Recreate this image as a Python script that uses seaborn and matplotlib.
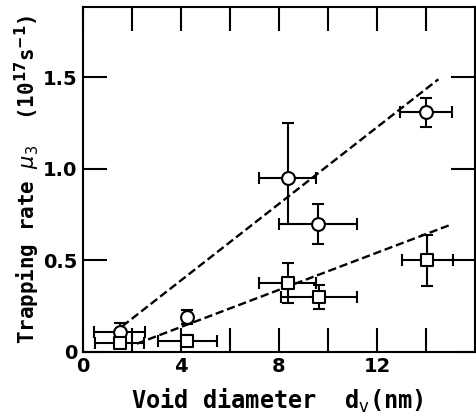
import matplotlib
matplotlib.use("Agg")
import matplotlib.pyplot as plt
import seaborn as sns
import numpy as np
import pandas as pd

# circles (upper series)
circle_x = [1.5, 4.25, 8.35, 9.6, 14.0]
circle_y = [0.11, 0.19, 0.95, 0.70, 1.31]
circle_xerr = [1.05, np.nan, 1.15, 1.6, 1.05]
circle_yerr_lo = [0.05, 0.04, 0.25, 0.11, 0.08]
circle_yerr_hi = [0.05, 0.04, 0.30, 0.11, 0.08]

# squares (lower series)
square_x = [1.5, 4.25, 8.35, 9.65, 14.05]
square_y = [0.05, 0.06, 0.375, 0.30, 0.50]
square_xerr = [1.0, 1.2, 1.15, 1.55, 1.05]
square_yerr = [0.03, 0.03, 0.11, 0.065, 0.14]

# dashed fit lines (end points)
fit_upper_x = [1.6, 14.5]
fit_upper_y = [0.14, 1.49]
fit_lower_x = [2.2, 15.0]
fit_lower_y = [0.045, 0.695]

x_major = [0, 4, 8, 12]
x_minor = [2, 6, 10, 14]
y_ticks = [0, 0.5, 1.0, 1.5]
y_ticklabels = ["0", "0.5", "1.0", "1.5"]

sns.set_style("ticks")
plt.rcParams["font.family"] = ["DejaVu Sans Mono", "DejaVu Sans"]
plt.rcParams["mathtext.fontset"] = "dejavusans"
plt.rcParams["text.color"] = "black"
plt.rcParams["axes.labelcolor"] = "black"

fig = plt.figure(figsize=(4.77, 4.15), dpi=100)
ax = fig.add_axes([0.174, 0.152, 0.822, 0.831])

lw = 1.5

# fit lines
fits = pd.DataFrame({
    "x": fit_upper_x + fit_lower_x,
    "y": fit_upper_y + fit_lower_y,
    "fit": ["upper"] * 2 + ["lower"] * 2,
})
for name, grp in fits.groupby("fit"):
    sns.lineplot(data=grp, x="x", y="y", ax=ax, color="black", lw=1.7,
                 linestyle=(0, (3.5, 1.6)), zorder=2)

# error bars
ax.errorbar(circle_x, circle_y, xerr=circle_xerr,
            yerr=[circle_yerr_lo, circle_yerr_hi], fmt="none",
            ecolor="black", elinewidth=lw, capsize=4.5, capthick=lw, zorder=3)
ax.errorbar(square_x, square_y, xerr=square_xerr, yerr=square_yerr, fmt="none",
            ecolor="black", elinewidth=lw, capsize=4.5, capthick=lw, zorder=3)

# markers
sns.scatterplot(x=circle_x, y=circle_y, ax=ax, marker="o", s=85,
                facecolor="white", edgecolor="black", linewidth=lw, zorder=4)
sns.scatterplot(x=square_x, y=square_y, ax=ax, marker="s", s=70,
                facecolor="white", edgecolor="black", linewidth=lw, zorder=4)

ax.set_xlim(0, 16)
ax.set_ylim(0, 1.885)

ax.set_xticks(x_major)
ax.set_xticks(x_minor, minor=True)
ax.set_yticks(y_ticks)
ax.set_yticklabels(y_ticklabels)

tick_fp = matplotlib.font_manager.FontProperties(family="DejaVu Sans",
                                                 weight="bold", size=14)
for lab in ax.get_xticklabels() + ax.get_yticklabels():
    lab.set_fontproperties(tick_fp)

ax.tick_params(which="both", direction="in", length=17, width=lw,
               top=True, right=True, pad=4, colors="black")
ax.tick_params(axis="x", which="minor", labelbottom=False)

for sp in ax.spines.values():
    sp.set_linewidth(lw)
    sp.set_color("black")

ax.set_xlabel(r"Void diameter  d$_{\mathsf{v}}$(nm)", fontsize=17,
              fontweight="bold")
ax.xaxis.set_label_coords(0.496, -0.1)
ax.set_ylabel(r"Trapping rate $\mu_{3}$  (10$^{\mathbf{17}}$s$^{\mathbf{-1}}$)",
              fontsize=15, fontweight="bold")
ax.yaxis.set_label_coords(-0.105, 0.5)

fig.savefig("out.png", dpi=100)
